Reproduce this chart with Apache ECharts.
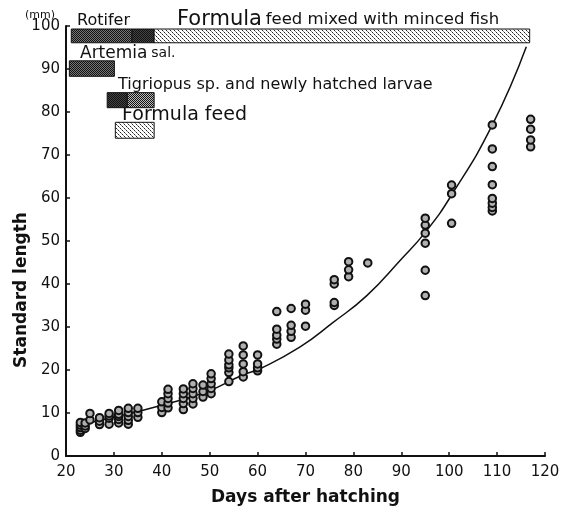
<!DOCTYPE html>
<html>
<head>
<meta charset="utf-8">
<script src="https://cdn.jsdelivr.net/npm/echarts@6/dist/echarts.min.js"></script>
<style>
  html, body { margin: 0; background: #fff; }
  #chart { width: 572px; height: 511px; }
</style>
</head>
<body>
<div id="chart"></div>
<script>
// Standard length (mm) of reared fish vs days after hatching, with feeding schedule bars on top.
const FONT = '"DejaVu Sans", sans-serif'

// measured fish: [day, standard length mm]
const samples = [
  [23, 5.5], [23, 6.0], [23, 6.6], [23, 7.2], [23, 7.8], [24, 6.4], [24, 7.0], [24, 7.7],
  [25, 8.4], [25, 9.9],
  [27, 7.3], [27, 8.1], [27, 8.9],
  [29, 7.4], [29, 8.8], [29, 9.3], [29, 9.9],
  [31, 7.7], [31, 8.5], [31, 9.2], [31, 9.7], [31, 10.6],
  [33, 7.4], [33, 8.3], [33, 9.2], [33, 10.1], [33, 11.1],
  [35, 9.0], [35, 10.1], [35, 11.1],
  [40, 10.1], [40, 11.3], [40, 12.6],
  [41.3, 11.2], [41.3, 12.3], [41.3, 13.4], [41.3, 14.5], [41.3, 15.5],
  [44.5, 10.8], [44.5, 12.2], [44.5, 13.4], [44.5, 14.5], [44.5, 15.6],
  [46.5, 12.1], [46.5, 13.4], [46.5, 14.5], [46.5, 15.7], [46.5, 16.8],
  [48.6, 13.7], [48.6, 15.0], [48.6, 16.5],
  [50.3, 14.5], [50.3, 15.7], [50.3, 16.8], [50.3, 18.0], [50.3, 19.1],
  [54, 17.3], [54, 19.4], [54, 20.5], [54, 21.2], [54, 22.3], [54, 23.7],
  [57, 18.4], [57, 19.6], [57, 21.4], [57, 23.5], [57, 25.6],
  [60, 19.8], [60, 20.5], [60, 21.4], [60, 23.5],
  [64, 26.0], [64, 27.2], [64, 28.1], [64, 29.5], [64, 33.6],
  [67, 27.6], [67, 29.0], [67, 30.4], [67, 34.3],
  [70, 30.2], [70, 33.9], [70, 35.3],
  [76, 35.0], [76, 35.7], [76, 40.0], [76, 41.0],
  [79, 41.7], [79, 43.3], [79, 45.2],
  [83, 44.9],
  [95, 37.3], [95, 43.2], [95, 49.5], [95, 51.8], [95, 53.7], [95, 55.3],
  [100.5, 54.1], [100.5, 61.0], [100.5, 63.0],
  [109, 57.0], [109, 57.8], [109, 58.8], [109, 59.9], [109, 63.1], [109, 67.3], [109, 71.4], [109, 77.0],
  [117, 71.9], [117, 73.5], [117, 76.0], [117, 78.3],
]

// fitted growth curve
const curveDays = [23.5, 30, 40, 49.5, 57, 60.5, 68.8, 75.7, 82.8, 89.7, 95.2, 100.5, 109, 116.1]
const curveLength = [7.4, 9.0, 11.8, 15.0, 18.9, 20.3, 25.3, 31.0, 37.3, 45.4, 52.3, 60.7, 77.0, 95.2]

// feeding periods: [first day, last day, bottom mm, top mm]
const feedBars = [
  [21.1, 33.8, 96.1, 99.3], // rotifer
  [33.8, 38.4, 96.1, 99.3], // rotifer + formula
  [38.4, 116.8, 96.1, 99.3], // formula feed mixed with minced fish
  [20.7, 30.1, 88.3, 91.9], // Artemia
  [28.6, 32.8, 81.0, 84.5], // Tigriopus
  [32.8, 38.4, 81.0, 84.5], // Tigriopus + larvae
  [30.3, 38.4, 73.9, 77.6], // formula feed
]

function pattern(kind) {
  const c = document.createElement("canvas")
  const ctx = c.getContext("2d")
  if (kind === "dots") {
    c.width = c.height = 4
    ctx.fillStyle = "#fff"
    ctx.fillRect(0, 0, 4, 4)
    ctx.fillStyle = "#222"
    ctx.fillRect(0, 0, 1, 1)
    ctx.fillRect(2, 2, 1, 1)
    ctx.fillStyle = "#888"
    ctx.fillRect(1, 1, 1, 1)
    ctx.fillRect(3, 3, 1, 1)
  } else {
    c.width = c.height = 2
    ctx.fillStyle = kind === "darker" ? "#444" : kind === "mid" ? "#bbb" : "#777"
    ctx.fillRect(0, 0, 2, 2)
    ctx.fillStyle = "#111"
    ctx.fillRect(0, 0, 1, 1)
    ctx.fillRect(1, 1, 1, 1)
  }
  return { image: c, repeat: "repeat" }
}

const barFills = ["dark", "darker", "dots", "dark", "darker", "mid", "dots"].map(pattern)

const chart = echarts.init(document.getElementById("chart"))

const txt = { fontFamily: FONT, fill: "#111" }

chart.setOption({
  animation: false,
  grid: { left: 66, right: 27, top: 26, bottom: 51 },
  xAxis: {
    type: "value",
    min: 20,
    max: 120,
    interval: 10,
    name: "Days after hatching",
    nameLocation: "middle",
    nameGap: 33,
    nameTextStyle: { color: "#111", fontSize: 17, fontWeight: "bold", fontFamily: FONT },
    axisLine: { lineStyle: { color: "#111", width: 2 } },
    axisTick: { inside: true, length: 4, lineStyle: { color: "#111", width: 1.5 } },
    axisLabel: { color: "#111", fontSize: 15, fontFamily: FONT, margin: 9 },
    splitLine: { show: false },
  },
  yAxis: {
    type: "value",
    min: 0,
    max: 100,
    interval: 10,
    axisLine: { show: true, lineStyle: { color: "#111", width: 2 } },
    axisTick: { show: true, inside: true, length: 4, lineStyle: { color: "#111", width: 1.5 } },
    axisLabel: { color: "#111", fontSize: 15, fontFamily: FONT, margin: 6 },
    splitLine: { show: false },
  },
  graphic: [
    { type: "text", left: 25, top: 10, style: { ...txt, text: "(mm)", fontSize: 11 } },
    { type: "text", left: 77, top: 13, style: { ...txt, text: "Rotifer", fontSize: 16 } },
    {
      type: "text",
      left: 177,
      top: 9,
      style: {
        ...txt,
        text: "{a|Formula} {b|feed mixed with minced fish}",
        rich: {
          a: { fontFamily: FONT, fontSize: 21, fill: "#111" },
          b: { fontFamily: FONT, fontSize: 16.5, fill: "#111" },
        },
      },
    },
    {
      type: "text",
      left: 80,
      top: 45,
      style: {
        ...txt,
        text: "{a|Artemia} {b|sal.}",
        rich: {
          a: { fontFamily: FONT, fontSize: 17, fill: "#111" },
          b: { fontFamily: FONT, fontSize: 14, fill: "#111" },
        },
      },
    },
    { type: "text", left: 118, top: 77, style: { ...txt, text: "Tigriopus sp. and newly hatched larvae", fontSize: 16 } },
    { type: "text", left: 122, top: 106, style: { ...txt, text: "Formula feed", fontSize: 19 } },
    {
      type: "text",
      x: 22,
      y: 290,
      rotation: Math.PI / 2,
      style: { ...txt, text: "Standard length", fontSize: 17, fontWeight: "bold", align: "center", verticalAlign: "middle" },
    },
  ],
  series: [
    {
      type: "custom",
      data: feedBars,
      clip: false,
      renderItem: (params, api) => {
        const a = api.coord([api.value(0), api.value(3)])
        const b = api.coord([api.value(1), api.value(2)])
        return {
          type: "rect",
          shape: { x: a[0], y: a[1], width: b[0] - a[0], height: b[1] - a[1] },
          style: { fill: barFills[params.dataIndex], stroke: "#111", lineWidth: 1 },
        }
      },
      z: 1,
    },
    {
      type: "line",
      data: curveDays.map((d, i) => [d, curveLength[i]]),
      smooth: 0.5,
      showSymbol: false,
      lineStyle: { color: "#111", width: 1.5 },
      z: 2,
    },
    {
      type: "scatter",
      data: samples,
      symbolSize: 7.5,
      itemStyle: { color: "#b0b0b0", borderColor: "#111", borderWidth: 2, opacity: 1 },
      z: 3,
    },
  ],
})
</script>
</body>
</html>
